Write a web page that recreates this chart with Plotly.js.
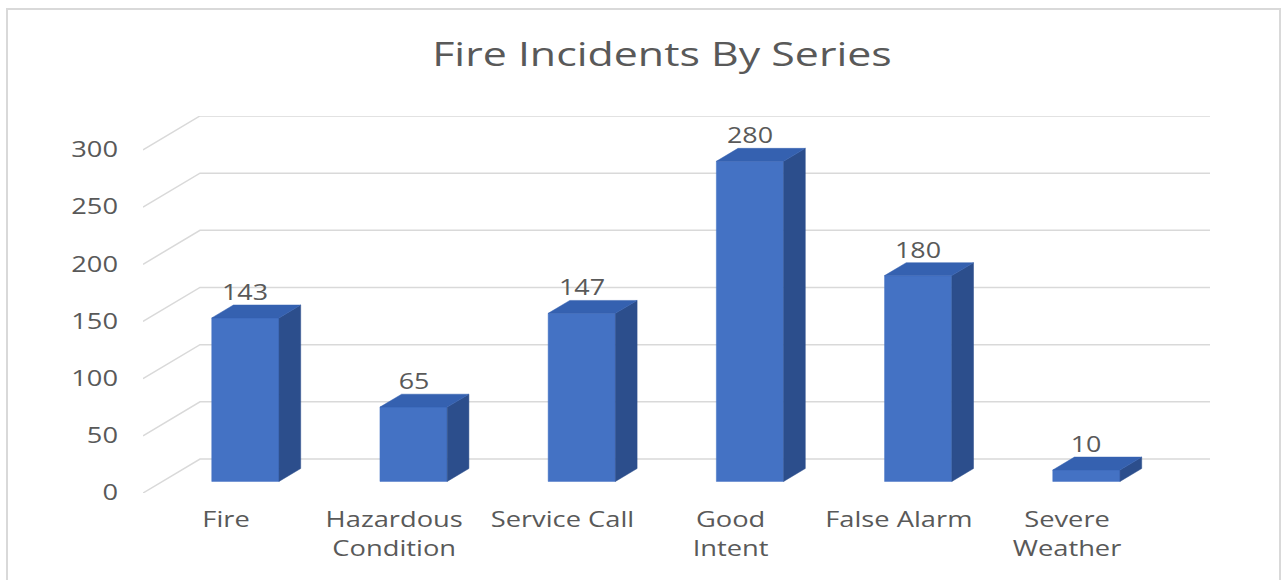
<!DOCTYPE html>
<html>
<head>
<meta charset="utf-8">
<script src="https://cdn.plot.ly/plotly-3.0.1.min.js"></script>
<style>
  html, body { margin: 0; padding: 0; background: #ffffff; }
  #chart { width: 1287px; height: 580px; }
</style>
</head>
<body>
<div id="chart"></div>
<script>
// ---- data ----
const categories = ["Fire", "Hazardous<br>Condition", "Service Call", "Good<br>Intent", "False Alarm", "Severe<br>Weather"];
const incidents = [143, 65, 147, 280, 180, 10];
const yTicks = [0, 50, 100, 150, 200, 250, 300];
const chartTitle = "Fire Incidents By Series";

// ---- pseudo-3D geometry (in axis units) ----
const X_MIN = -0.4935, X_MAX = 5.85;
const Y_MAX = 329.7;
const DEPTH_X = 0.3389, DEPTH_Y = 29.74;   // floor depth offset (front -> back wall)
const F1 = 0.34, F2 = 0.72;                // bar front/back depth fractions
const HALF_W = 0.2;

const FRONT = '#4472C4', TOP = '#3561B0', SIDE = '#2C4E8C';
const GRID = '#D9D9D9', TEXT = '#595959';
const FONT = '"Open Sans", "Liberation Sans", sans-serif';

// gridlines: side wall diagonals + back wall horizontals
const gx = [], gy = [];
yTicks.forEach(v => {
  gx.push(X_MIN, X_MIN + DEPTH_X, X_MAX, null);
  gy.push(v, v + DEPTH_Y, v + DEPTH_Y, null);
});

const catIdx = categories.map((c, i) => i);
const frontX = catIdx.map(i => i + F1 * DEPTH_X);
const baseY = F1 * DEPTH_Y;
const dx = (F2 - F1) * DEPTH_X, dy = (F2 - F1) * DEPTH_Y;

const fx = [], fy = [], sx = [], sy = [], tx = [], ty = [];
incidents.forEach((v, i) => {
  const xl = frontX[i] - HALF_W, xr = frontX[i] + HALF_W;
  const top = baseY + v;
  fx.push(xl, xr, xr, xl, xl, null);
  fy.push(baseY, baseY, top, top, baseY, null);
  sx.push(xr, xr, xr + dx, xr + dx, xr, null);
  sy.push(baseY, top, top + dy, baseY + dy, baseY, null);
  tx.push(xl, xr, xr + dx, xl + dx, xl, null);
  ty.push(top, top, top + dy, top + dy, top, null);
});

function face(x, y, color) {
  return { type: 'scatter', mode: 'lines', x: x, y: y, fill: 'toself', fillcolor: color,
           line: { color: color, width: 0.5 }, hoverinfo: 'skip', showlegend: false };
}

const traces = [
  { type: 'scatter', mode: 'lines', x: gx, y: gy, line: { color: GRID, width: 1.5 },
    hoverinfo: 'skip', showlegend: false },
  face(fx, fy, FRONT),
  face(sx, sy, SIDE),
  face(tx, ty, TOP)
];

const annotations = incidents.map((v, i) => ({
  x: frontX[i], y: baseY + v, xref: 'x', yref: 'y',
  text: String(v), showarrow: false, yanchor: 'middle', yshift: 26,
  font: { family: FONT, size: 21, color: TEXT }
}));

const layout = {
  width: 1287, height: 580,
  margin: { l: 143, r: 77, t: 116, b: 87 },
  paper_bgcolor: '#ffffff', plot_bgcolor: 'rgba(0,0,0,0)',
  showlegend: false,
  title: { text: chartTitle, x: 662 / 1287, xanchor: 'center', xref: 'container',
           y: 1 - 55 / 580, yanchor: 'middle', yref: 'container',
           font: { family: FONT, size: 32, color: TEXT } },
  xaxis: { range: [X_MIN, X_MAX], tickvals: catIdx, ticktext: categories,
           showgrid: false, zeroline: false, showline: false, ticks: '',
           ticklabelstandoff: 11, fixedrange: true,
           tickfont: { family: FONT, size: 22, color: TEXT } },
  yaxis: { range: [0, Y_MAX], tickvals: yTicks, ticktext: yTicks.map(String),
           showgrid: false, zeroline: false, showline: false, ticks: '',
           ticklabelstandoff: 24, fixedrange: true,
           tickfont: { family: FONT, size: 21, color: TEXT } },
  annotations: annotations,
  shapes: [
    { type: 'rect', xref: 'paper', yref: 'paper',
      x0: (7 - 143) / 1067, x1: (1280 - 143) / 1067,
      y0: -0.4, y1: (493 - 9) / 377,
      line: { color: GRID, width: 2 }, fillcolor: 'rgba(0,0,0,0)', layer: 'below' }
  ]
};

// The reference text is horizontally stretched; widen glyphs with SVG textLength.
function stretch(selector, factor) {
  document.querySelectorAll(selector).forEach(t => {
    const lines = t.querySelectorAll('tspan.line');
    const targets = lines.length ? Array.from(lines) : [t];
    targets.forEach(el => {
      const w = el.getComputedTextLength();
      if (w > 0) {
        el.setAttribute('textLength', (w * factor).toFixed(1));
        el.setAttribute('lengthAdjust', 'spacingAndGlyphs');
      }
    });
  });
}

Plotly.newPlot('chart', traces, layout, { staticPlot: true, displayModeBar: false }).then(() => {
  stretch('.gtitle', 1.34);
  stretch('.xtick text', 1.24);
  stretch('.ytick text', 1.3);
  stretch('.annotation-text', 1.28);
});
</script>
</body>
</html>
